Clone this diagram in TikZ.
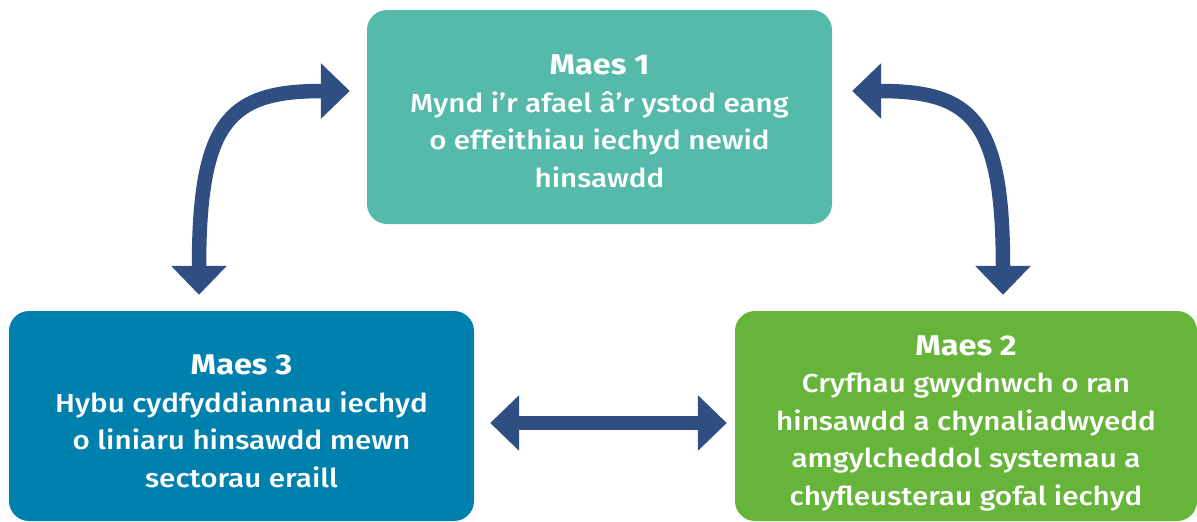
\documentclass[tikz,border=0pt]{standalone}
\usepackage{fontspec}
\setmainfont{Fira Sans}[UprightFont=* Medium, BoldFont=* Bold, FakeStretch=1.14]
\usetikzlibrary{arrows.meta}
\definecolor{tealbox}{RGB}{86,186,170}
\definecolor{bluebox}{RGB}{0,129,173}
\definecolor{greenbox}{RGB}{102,180,58}
\definecolor{arrowblue}{RGB}{47,79,130}
\newcommand{\mtitle}[1]{{\fontsize{28.5}{37.5}\selectfont\bfseries #1}}
\tikzset{
  mbox/.style={rounded corners=20pt, inner sep=0pt},
  mtext/.style={text=white, align=center, inner sep=0pt,
    font=\fontsize{26}{37.5}\selectfont},
  twoway/.style={draw=arrowblue, line width=14.5pt,
    {Triangle[width=54pt,length=29pt]}-{Triangle[width=54pt,length=29pt]}}
}
\begin{document}
\begin{tikzpicture}[x=1pt,y=-1pt]
\useasboundingbox (0,0) rectangle (1197,522);
\node[mbox, fill=tealbox, minimum width=465pt, minimum height=214pt] (m1) at (599.5,117) {};
\node[mtext] (t1) at ([yshift=-4.5pt]m1.center)
  {\mtitle{Maes 1}\\Mynd i’r afael â’r ystod eang\\o effeithiau iechyd newid\\hinsawdd};
\node[mbox, fill=bluebox, minimum width=465pt, minimum height=210pt] (m3) at (241.5,416) {};
\node[mtext] (t3) at ([yshift=-5.5pt]m3.center)
  {\mtitle{Maes 3}\\Hybu cydfyddiannau iechyd\\o liniaru hinsawdd mewn\\sectorau eraill};
\node[mbox, fill=greenbox, minimum width=462pt, minimum height=210pt] (m2) at (966,416) {};
\node[mtext] (t2) at ([yshift=-7pt]m2.center)
  {\mtitle{Maes 2}\\Cryfhau gwydnwch o ran\\hinsawdd a chynaliadwyedd\\amgylcheddol systemau a\\chyfleusterau gofal iechyd};
% arrow endpoints tied to the boxes
\coordinate (a3) at ([xshift=-42.5pt,yshift=16pt]m3.north);
\coordinate (a1l) at ([xshift=-17pt,yshift=26pt]m1.west);
\coordinate (a1r) at ([xshift=20pt,yshift=26pt]m1.east);
\coordinate (a2) at ([xshift=37pt,yshift=16pt]m2.north);
\coordinate (h3) at ([xshift=16pt,yshift=-7pt]m3.east);
\coordinate (h2) at ([xshift=-8pt,yshift=-7pt]m2.west);
\draw[twoway] (a3) .. controls +(0,-175) and +(-120,0) .. (a1l);
\draw[twoway] (a1r) .. controls +(120,0) and +(0,-175) .. (a2);
\draw[twoway] (h3) -- (h2);
\end{tikzpicture}
\end{document}
